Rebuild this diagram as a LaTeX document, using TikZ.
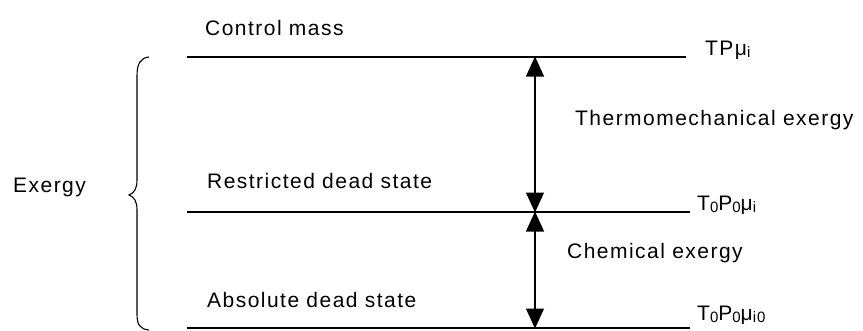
\documentclass[tikz,border=0pt]{standalone}
\usepackage{fontspec}
\setmainfont{Liberation Sans}[LetterSpace=7]
\usetikzlibrary{arrows.meta}
\tikzset{
  lbl/.style={anchor=base west, inner sep=0pt, font=\fontsize{21}{24}\selectfont},
  level/.style={line width=1.5pt},
  dim/.style={line width=1.2pt, {Triangle[width=18pt,length=20pt]}-{Triangle[width=18pt,length=20pt]}, shorten <=-0.5pt, shorten >=-0.5pt},
  brace/.style={line width=1.1pt}
}
\newcommand{\subsc}[1]{\raisebox{-0.25ex}{\fontsize{15}{16}\selectfont #1}}
\begin{document}
\begin{tikzpicture}[x=1pt,y=-1pt]
\useasboundingbox (0,0) rectangle (863,330);
% levels
\coordinate (l1a) at (187,57);  \coordinate (l1b) at (686,57);
\coordinate (l2a) at (187,212); \coordinate (l2b) at (690,212);
\coordinate (l3a) at (187,328); \coordinate (l3b) at (690,328);
\draw[level] (l1a) -- (l1b);
\draw[level] (l2a) -- (l2b);
\draw[level] (l3a) -- (l3b);
% arrows
\coordinate (a1) at (535,57);
\coordinate (a2) at (535,212);
\coordinate (a3) at (535,328);
\draw[dim] (a1) -- (a2);
\draw[dim] (a2) -- (a3);
% labels
\node[lbl] (cm) at (205,35) {Control mass};
\node[lbl] (rd) at (207,188) {Restricted dead state};
\node[lbl] (ad) at (207,307) {Absolute dead state};
\node[lbl] (te) at (575,125) {Thermomechanical exergy};
\node[lbl] (ce) at (567,258) {Chemical exergy};
\node[lbl] (ex) at (13,192) {Exergy};
\node[lbl] (s1) at (705,55) {TPμ\subsc{i}};
\node[lbl] (s2) at (697,210) {T\subsc{0}P\subsc{0}μ\subsc{i}};
\node[lbl] (s3) at (697,320) {T\subsc{0}P\subsc{0}μ\subsc{i0}};
% brace
\draw[brace] (149,57) .. controls (140,58) and (137,64) .. (137,76)
  -- (137,180) .. controls (137,189) and (134,193) .. (129,195)
  .. controls (134,197) and (137,201) .. (137,210)
  -- (137,314) .. controls (137,325) and (140,329) .. (149,330);
\end{tikzpicture}
\end{document}
